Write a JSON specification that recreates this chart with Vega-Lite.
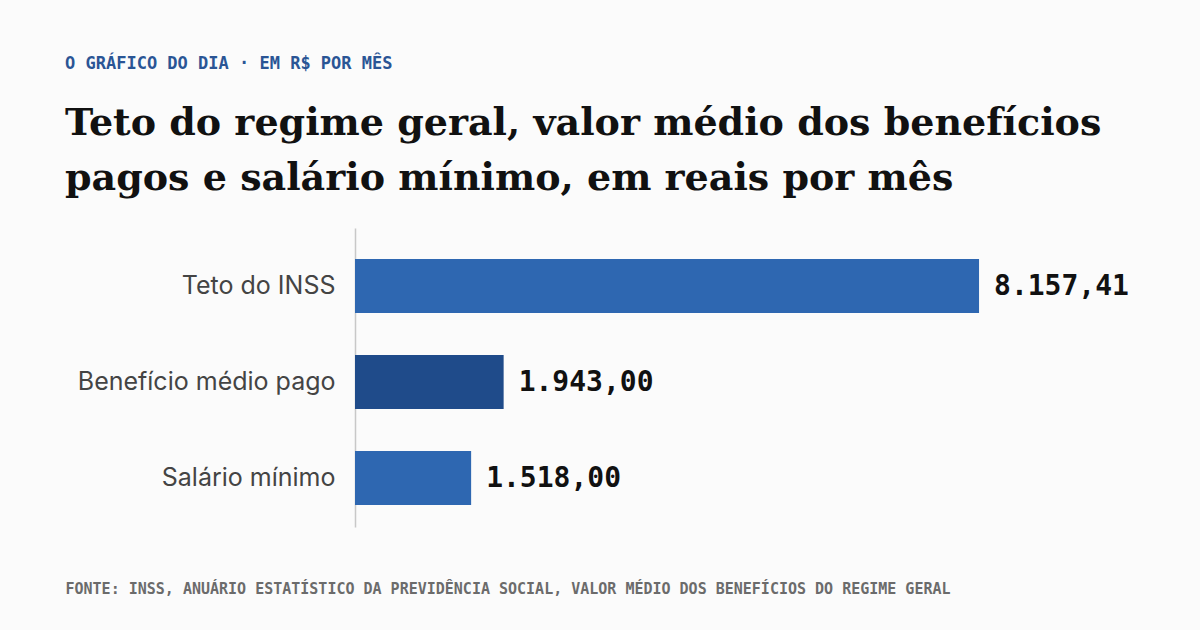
{
  "$schema": "https://vega.github.io/schema/vega-lite/v6.json",
  "width": 765,
  "height": 299,
  "autosize": {"type": "none"},
  "padding": {"left": 355, "top": 228, "right": 80, "bottom": 103},
  "background": "#fbfbfb",
  "config": {
    "view": {"stroke": null},
    "locale": {"number": {"decimal": ",", "thousands": ".", "grouping": [3], "currency": ["R$ ", ""]}}
  },
  "title": {
    "text": "O GRÁFICO DO DIA · EM R$ POR MÊS",
    "subtitle": ["Teto do regime geral, valor médio dos benefícios", "pagos e salário mínimo, em reais por mês"],
    "anchor": "start",
    "frame": "group",
    "dx": -290,
    "offset": 29,
    "font": "DejaVu Sans Mono",
    "fontSize": 17,
    "fontWeight": "bold",
    "color": "#2a5595",
    "subtitleFont": "DejaVu Serif",
    "subtitleFontSize": 38,
    "subtitleFontWeight": "bold",
    "subtitleColor": "#111111",
    "subtitleLineHeight": 55,
    "subtitlePadding": 32
  },
  "data": {
    "values": [
      {"categoria": "Teto do INSS", "valor": 8157.41, "grupo": "teto"},
      {"categoria": "Benefício médio pago", "valor": 1943.00, "grupo": "medio"},
      {"categoria": "Salário mínimo", "valor": 1518.00, "grupo": "minimo"}
    ]
  },
  "encoding": {
    "y": {
      "field": "categoria",
      "type": "nominal",
      "sort": null,
      "scale": {"paddingInner": 0.4375, "paddingOuter": 0.276, "align": 0.585},
      "axis": {
        "title": null,
        "ticks": false,
        "labelPadding": 20,
        "labelLimit": 400,
        "labelFont": "Inter",
        "labelFontSize": 25,
        "labelColor": "#444444",
        "domainColor": "#c8c8c8",
        "domainWidth": 1.5
      }
    },
    "x": {
      "field": "valor",
      "type": "quantitative",
      "scale": {"domain": [0, 10000], "nice": false},
      "axis": {
        "domain": false,
        "ticks": false,
        "labels": false,
        "grid": false,
        "title": "FONTE: INSS, ANUÁRIO ESTATÍSTICO DA PREVIDÊNCIA SOCIAL, VALOR MÉDIO DOS BENEFÍCIOS DO REGIME GERAL",
        "titleAnchor": "start",
        "titleAlign": "left",
        "titleX": -290,
        "titleY": 66,
        "titleBaseline": "alphabetic",
        "titleFont": "DejaVu Sans Mono",
        "titleFontSize": 15,
        "titleFontWeight": "bold",
        "titleColor": "#6b6b6b"
      }
    }
  },
  "layer": [
    {
      "mark": {"type": "bar"},
      "encoding": {
        "color": {
          "field": "grupo",
          "type": "nominal",
          "scale": {"domain": ["teto", "medio", "minimo"], "range": ["#2e67b1", "#1f4b8a", "#2e67b1"]},
          "legend": null
        }
      }
    },
    {
      "mark": {
        "type": "text",
        "align": "left",
        "baseline": "middle",
        "dx": 15,
        "dy": 1,
        "font": "DejaVu Sans Mono",
        "fontSize": 28,
        "fontWeight": "bold",
        "color": "#111111"
      },
      "encoding": {
        "text": {"field": "valor", "type": "quantitative", "format": ",.2f"}
      }
    }
  ]
}
